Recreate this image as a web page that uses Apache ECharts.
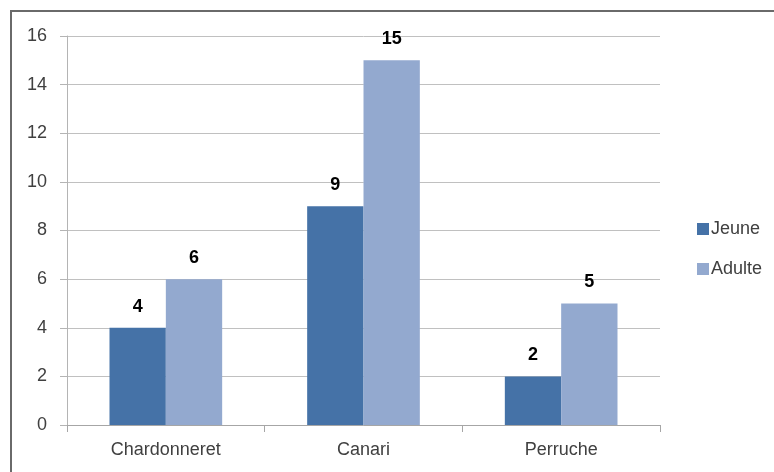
<!DOCTYPE html>
<html>
<head>
<meta charset="utf-8">
<script src="https://cdn.jsdelivr.net/npm/echarts@6/dist/echarts.min.js"></script>
<style>
  html, body { margin: 0; padding: 0; background: #fff; }
  #chart { width: 774px; height: 472px; }
</style>
</head>
<body>
<div id="chart"></div>
<script>
// Bird counts by species and age group
const categories = ['Chardonneret', 'Canari', 'Perruche'];
const jeune = [4, 9, 2];
const adulte = [6, 15, 5];
const yMin = 0, yMax = 16, yStep = 2;

const FONT = '"Liberation Sans", Arial, sans-serif';
const labelColor = '#404040';

const chart = echarts.init(document.getElementById('chart'), null, { renderer: 'canvas' });

const valueLabel = {
  show: true,
  position: 'top',
  distance: 12,
  color: '#000',
  fontFamily: FONT,
  fontWeight: 'bold',
  fontSize: 18
};

chart.setOption({
  animation: false,
  backgroundColor: '#fff',
  graphic: [{
    type: 'rect',
    shape: { x: 11, y: 11, width: 820, height: 520 },
    style: { fill: 'none', stroke: '#6a6a6a', lineWidth: 2 },
    silent: true
  }],
  grid: { left: 67, right: 114, top: 36, bottom: 47, containLabel: false },
  legend: {
    orient: 'vertical',
    left: 692,
    top: 215,
    itemWidth: 12,
    itemHeight: 12,
    itemGap: 22,
    icon: 'rect',
    textStyle: { color: labelColor, fontFamily: FONT, fontSize: 18, padding: [0, 0, 0, -3] },
    data: ['Jeune', 'Adulte']
  },
  xAxis: {
    type: 'category',
    data: categories,
    axisLine: { lineStyle: { color: '#a6a6a6', width: 1 } },
    axisTick: { show: true, length: 7, alignWithLabel: false, lineStyle: { color: '#a6a6a6' } },
    axisLabel: { color: labelColor, fontFamily: FONT, fontSize: 18, margin: 16 }
  },
  yAxis: {
    type: 'value',
    min: yMin,
    max: yMax,
    interval: yStep,
    axisLine: { show: true, lineStyle: { color: '#b4b4b4', width: 1 } },
    axisTick: { show: true, length: 7, lineStyle: { color: '#b4b4b4' } },
    splitLine: { lineStyle: { color: '#c0c0c0', width: 1 } },
    axisLabel: { color: labelColor, fontFamily: FONT, fontSize: 18, margin: 20 }
  },
  series: [
    {
      name: 'Jeune',
      type: 'bar',
      data: jeune,
      barGap: '0%',
      barCategoryGap: '43%',
      itemStyle: { color: '#4572A7' },
      label: valueLabel
    },
    {
      name: 'Adulte',
      type: 'bar',
      data: adulte,
      itemStyle: { color: '#93A9CF' },
      label: valueLabel
    }
  ]
});
</script>
</body>
</html>
